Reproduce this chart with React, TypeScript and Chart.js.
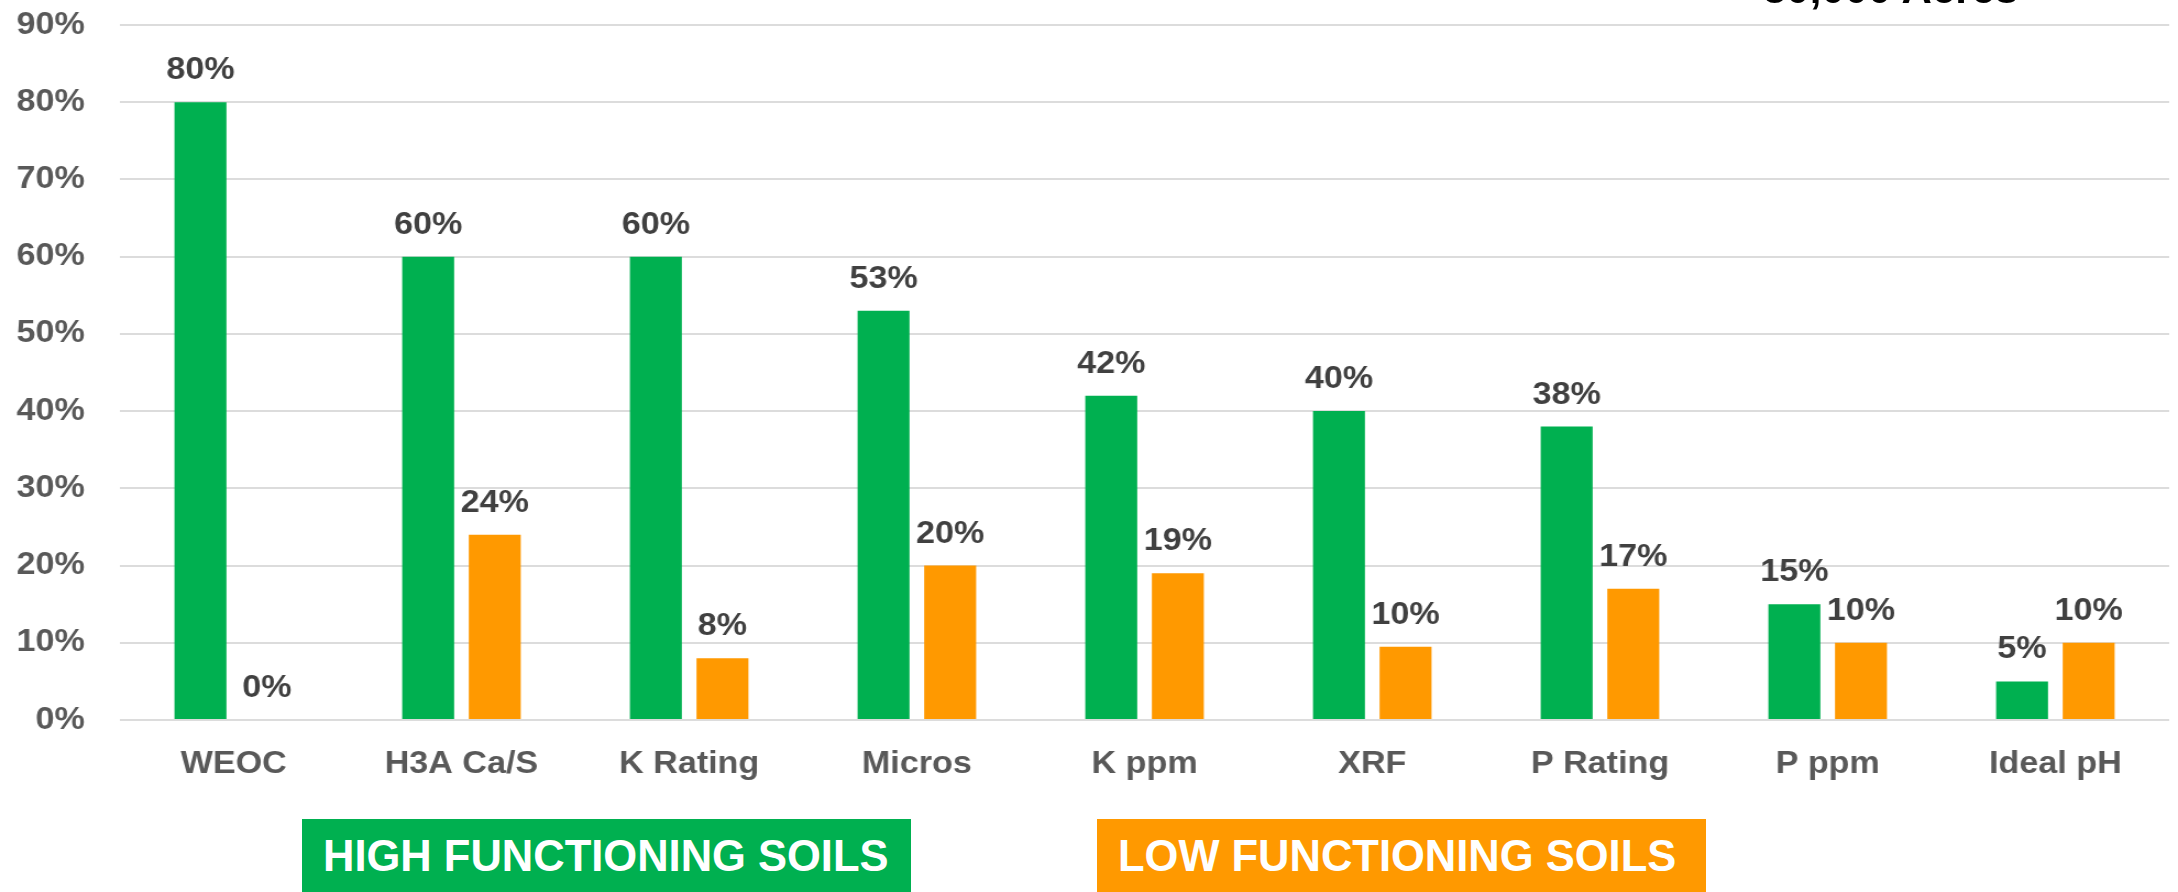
import React, { useEffect, useRef } from 'react';
import { Chart, registerables } from 'chart.js';

Chart.register(...registerables);

const categories = ['WEOC', 'H3A Ca/S', 'K Rating', 'Micros', 'K ppm', 'XRF', 'P Rating', 'P ppm', 'Ideal pH'];
const highValues = [80, 60, 60, 53, 42, 40, 38, 15, 5];
const lowValues = [0, 24, 8, 20, 19, 9.5, 17, 10, 10];
const seriesNames = ['HIGH FUNCTIONING SOILS', 'LOW FUNCTIONING SOILS'];
const seriesColors = ['#00B050', '#FF9900'];
const yMin = 0;
const yMax = 90;
const yStep = 10;
const cornerNote = '30,000 Acres';

const STRETCH = 1.1;
const W = 2178;
const H = 892;
const FONT = "'Liberation Sans', Arial, sans-serif";

const dataLabelPlugin = {
  id: 'dataLabels',
  afterDatasetsDraw(chart: any) {
    const ctx = chart.ctx;
    ctx.save();
    ctx.font = `bold 31px ${FONT}`;
    ctx.fillStyle = '#404040';
    ctx.textAlign = 'center';
    ctx.textBaseline = 'alphabetic';
    chart.data.datasets.forEach((ds: any, di: number) => {
      const meta = chart.getDatasetMeta(di);
      meta.data.forEach((el: any, i: number) => {
        const v = ds.data[i];
        ctx.fillText(Math.round(v) + '%', el.x, el.y - 23);
      });
    });
    ctx.restore();
  },
};

export default function App() {
  const ref = useRef<HTMLCanvasElement | null>(null);

  useEffect(() => {
    document.body.style.margin = '0';
    const canvas = ref.current!;
    const chart = new Chart(canvas, {
      type: 'bar',
      data: {
        labels: categories,
        datasets: [
          { label: seriesNames[0], data: highValues, backgroundColor: seriesColors[0], categoryPercentage: 0.585, barPercentage: 0.78 },
          { label: seriesNames[1], data: lowValues, backgroundColor: seriesColors[1], categoryPercentage: 0.585, barPercentage: 0.78 },
        ],
      },
      options: {
        responsive: false,
        animation: false,
        devicePixelRatio: 1,
        layout: { padding: { top: 25, right: 8, bottom: 72, left: 0 } },
        plugins: { legend: { display: false }, tooltip: { enabled: false } },
        scales: {
          x: {
            grid: { display: false, drawTicks: false },
            border: { display: false },
            ticks: {
              padding: 26,
              color: '#595959',
              font: { family: FONT, size: 31, weight: 'bold' },
              maxRotation: 0,
              autoSkip: false,
            },
            afterFit: (s: any) => { s.height = 100; },
          },
          y: {
            min: yMin,
            max: yMax,
            grid: { color: '#dcdcdc', lineWidth: 2, drawTicks: true, tickLength: 30, tickColor: 'rgba(0,0,0,0)' },
            border: { display: false },
            ticks: {
              stepSize: yStep,
              padding: 2,
              color: '#595959',
              font: { family: FONT, size: 31, weight: 'bold' },
              callback: (v: any) => v + '%',
            },
            afterFit: (s: any) => { s.width = 109; },
          },
        },
      },
      plugins: [dataLabelPlugin],
    } as any);
    return () => chart.destroy();
  }, []);

  const boxStyle = (left: number, color: string): React.CSSProperties => ({
    position: 'absolute',
    left,
    top: 819,
    width: 609,
    height: 80,
    background: color,
    color: '#ffffff',
    fontFamily: FONT,
    fontWeight: 'bold',
    fontSize: '43.5px',
    lineHeight: '74px',
    paddingLeft: 21,
    boxSizing: 'border-box',
    whiteSpace: 'nowrap',
  });

  return (
    <div style={{ position: 'fixed', left: 0, top: 0, width: W, height: H, overflow: 'hidden', background: '#ffffff' }}>
      <canvas
        ref={ref}
        width={Math.round(W / STRETCH)}
        height={H}
        style={{ position: 'absolute', left: 0, top: 0, width: `${W}px`, height: `${H}px` }}
      />
      <div
        style={{
          position: 'absolute',
          left: 1763,
          top: -32,
          fontFamily: FONT,
          fontWeight: 'bold',
          fontSize: '42px',
          lineHeight: '42px',
          color: '#000000',
          whiteSpace: 'nowrap',
        }}
      >
        {cornerNote}
      </div>
      <div style={boxStyle(302, seriesColors[0])}>{seriesNames[0]}</div>
      <div style={boxStyle(1097, seriesColors[1])}>{seriesNames[1]}</div>
    </div>
  );
}
